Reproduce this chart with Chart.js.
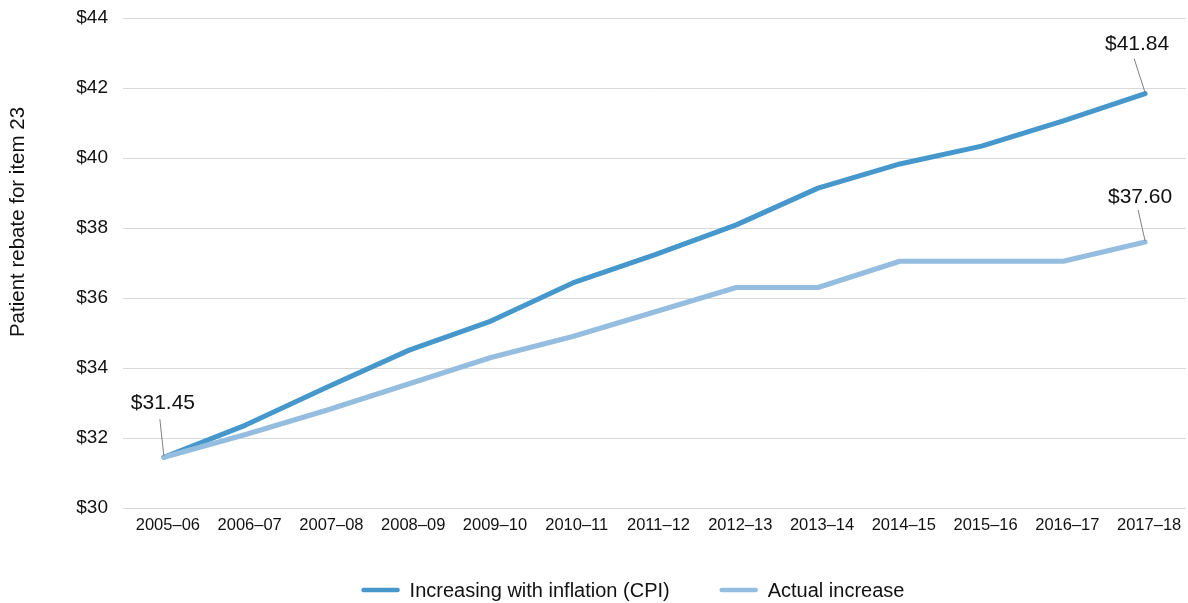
<!DOCTYPE html>
<html><head><meta charset="utf-8">
<script src="https://cdn.jsdelivr.net/npm/chart.js@4"></script>
<style>html,body{margin:0;padding:0;background:#fff}#wrap{width:1188px;height:603px}</style>
</head><body><div id="wrap"><canvas id="c" width="1188" height="603"></canvas></div>
<script>
const categories = ['2005–06','2006–07','2007–08','2008–09','2009–10','2010–11','2011–12','2012–13','2013–14','2014–15','2015–16','2016–17','2017–18'];
const cpiValues = [31.45, 32.37, 33.46, 34.51, 35.34, 36.43, 37.23, 38.09, 39.14, 39.83, 40.34, 41.06, 41.84];
const actualValues = [31.45, 32.10, 32.80, 33.55, 34.30, 34.90, 35.60, 36.30, 36.30, 37.05, 37.05, 37.05, 37.60];
const seriesNames = ['Increasing with inflation (CPI)', 'Actual increase'];
const yTickValues = [30, 32, 34, 36, 38, 40, 42, 44];
const yAxisTitle = 'Patient rebate for item 23';
const calloutPoints = [[0, 0], [0, 12], [1, 12]]; // [datasetIndex, pointIndex]
const calloutTexts = ['$31.45', '$41.84', '$37.60'];

const FONT = '"Liberation Sans", Arial, Helvetica, sans-serif';
const colors = ['#4597cc', '#94bddf'];
// text offsets and leader-line starts relative to each point (style only)
const calloutStyle = [
  {tx: -1, ty: -54, lx: -4, ly: -38},
  {tx: -8, ty: -49, lx: -11, ly: -35},
  {tx: -5, ty: -45, lx: -7, ly: -32}
];

const extras = {
  id: 'extras',
  afterDatasetsDraw(chart) {
    const ctx = chart.ctx;
    ctx.save();
    // callouts
    calloutPoints.forEach((cp, i) => {
      const pt = chart.getDatasetMeta(cp[0]).data[cp[1]];
      const s = calloutStyle[i];
      ctx.strokeStyle = '#7f7f7f';
      ctx.lineWidth = 1;
      ctx.beginPath();
      ctx.moveTo(pt.x + s.lx, pt.y + s.ly);
      ctx.lineTo(pt.x, pt.y - 1);
      ctx.stroke();
      ctx.fillStyle = '#111';
      ctx.font = '21px ' + FONT;
      ctx.textAlign = 'center';
      ctx.textBaseline = 'middle';
      ctx.fillText(calloutTexts[i], pt.x + s.tx, pt.y + s.ty);
    });
    // y-axis title
    ctx.save();
    ctx.translate(18, 222);
    ctx.rotate(-Math.PI / 2);
    ctx.font = '20.5px ' + FONT;
    ctx.fillStyle = '#111';
    ctx.textAlign = 'center';
    ctx.textBaseline = 'middle';
    ctx.fillText(yAxisTitle, 0, 0);
    ctx.restore();
    // legend
    ctx.font = '20px ' + FONT;
    ctx.textBaseline = 'middle';
    ctx.textAlign = 'left';
    const ly = 590;
    const gap = 50, box = 38, boxGap = 10;
    const widths = seriesNames.map(n => box + boxGap + ctx.measureText(n).width);
    const total = widths.reduce((a, b) => a + b, 0) + gap * (widths.length - 1);
    let x = (chart.width - total) / 2 + 39;
    seriesNames.forEach((n, i) => {
      ctx.strokeStyle = colors[i];
      ctx.lineWidth = 4.5;
      ctx.lineCap = 'round';
      ctx.beginPath();
      ctx.moveTo(x + 2, ly);
      ctx.lineTo(x + box - 2, ly);
      ctx.stroke();
      ctx.fillStyle = '#111';
      ctx.fillText(n, x + box + boxGap, ly + 1);
      x += widths[i] + gap;
    });
    ctx.restore();
  }
};

new Chart(document.getElementById('c'), {
  type: 'line',
  data: {
    labels: categories,
    datasets: [
      {label: seriesNames[0], data: cpiValues, borderColor: colors[0], backgroundColor: colors[0], order: 1},
      {label: seriesNames[1], data: actualValues, borderColor: colors[1], backgroundColor: colors[1], order: 0}
    ]
  },
  options: {
    responsive: false,
    animation: false,
    devicePixelRatio: 1,
    layout: {padding: {top: 18, right: 2, left: 0, bottom: 0}},
    elements: {
      line: {borderWidth: 5, tension: 0, borderJoinStyle: 'round', borderCapStyle: 'round', fill: false},
      point: {radius: 0, hoverRadius: 0}
    },
    plugins: {legend: {display: false}, tooltip: {enabled: false}},
    scales: {
      x: {
        type: 'category',
        offset: true,
        grid: {display: false, drawTicks: false},
        border: {display: false},
        ticks: {font: {family: FONT, size: 16.5}, color: '#111', padding: 8, labelOffset: 4, maxRotation: 0, autoSkip: false},
        afterFit(scale) { scale.height = 95; }
      },
      y: {
        min: yTickValues[0],
        max: yTickValues[yTickValues.length - 1],
        afterBuildTicks(scale) { scale.ticks = yTickValues.map(v => ({value: v})); },
        grid: {color: '#d9d9d9', lineWidth: 1, drawTicks: false},
        border: {display: false},
        ticks: {font: {family: FONT, size: 19}, color: '#111', padding: 15, callback: v => '$' + v},
        afterFit(scale) { scale.width = 123; scale.paddingTop = 0; scale.paddingBottom = 0; }
      }
    }
  },
  plugins: [extras]
});
</script>
</body></html>
